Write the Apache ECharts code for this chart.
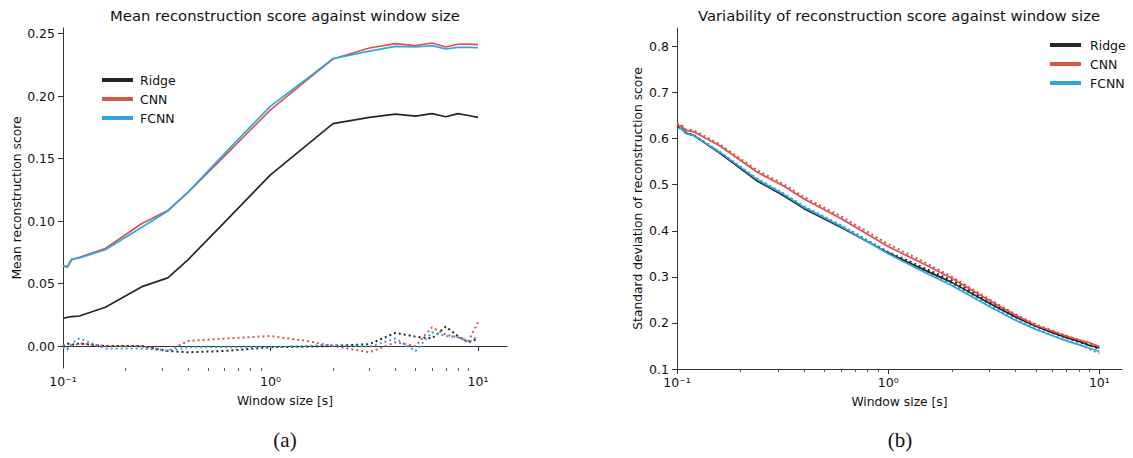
<!DOCTYPE html>
<html>
<head>
    <meta charset="utf-8">
    <title>Reconstruction score against window size</title>
    <script type="text/javascript" src="https://cdn.jsdelivr.net/npm/echarts@6/dist/echarts.min.js"></script>
    <style>
        html, body { margin: 0; padding: 0; background: #fff; }
        #chart { width: 1133px; height: 458px; }
    </style>
</head>
<body>
<div id="chart"></div>

<script type="text/javascript">
    // window sizes in seconds (x of every series)
    var windowSizes = [0.1, 0.105, 0.11, 0.12, 0.16, 0.24, 0.32, 0.4, 0.6, 1, 1.5, 2, 3, 4, 5, 6, 7, 8, 9, 10];

    // (a) mean reconstruction score
    var ridgeMean = [0.022, 0.023, 0.0235, 0.024, 0.031, 0.0475, 0.0545, 0.069, 0.099, 0.137, 0.161, 0.178, 0.183, 0.1855, 0.184, 0.186, 0.1835, 0.186, 0.1845, 0.183];
    var cnnMean   = [0.0645, 0.063, 0.069, 0.071, 0.078, 0.098, 0.1085, 0.123, 0.152, 0.189, 0.213, 0.2297, 0.2385, 0.242, 0.2404, 0.2425, 0.2393, 0.2415, 0.2416, 0.2412];
    var fcnnMean  = [0.064, 0.0635, 0.0695, 0.0705, 0.077, 0.095, 0.108, 0.123, 0.154, 0.192, 0.214, 0.230, 0.236, 0.2398, 0.2393, 0.2404, 0.2377, 0.239, 0.239, 0.2387];
    // dotted (null) curves
    var ridgeMeanNull = [0.000, 0.002, 0.001, 0.002, 0.000, 0.000, -0.004, -0.005, -0.004, -0.001, -0.0005, 0.000, 0.0015, 0.0105, 0.0075, 0.006, 0.0155, 0.008, 0.003, 0.006];
    var cnnMeanNull   = [0.001, -0.002, 0.000, 0.002, 0.000, 0.000, -0.004, 0.004, 0.006, 0.008, 0.004, 0.000, -0.005, 0.003, 0.000, 0.015, 0.009, 0.007, 0.004, 0.019];
    var fcnnMeanNull  = [-0.001, -0.003, 0.002, 0.006, -0.002, -0.002, -0.004, -0.001, -0.001, -0.001, 0.000, 0.001, -0.0005, 0.006, -0.004, 0.011, 0.008, 0.007, 0.003, 0.008];

    // (b) standard deviation of reconstruction score
    var ridgeStd = [0.625, 0.622, 0.612, 0.607, 0.568, 0.508, 0.476, 0.448, 0.407, 0.352, 0.314, 0.288, 0.243, 0.213, 0.193, 0.179, 0.168, 0.160, 0.151, 0.146];
    var cnnStd   = [0.630, 0.627, 0.618, 0.615, 0.584, 0.527, 0.497, 0.469, 0.426, 0.366, 0.326, 0.297, 0.249, 0.217, 0.195, 0.182, 0.171, 0.163, 0.157, 0.149];
    var fcnnStd  = [0.623, 0.621, 0.611, 0.607, 0.570, 0.511, 0.479, 0.451, 0.409, 0.350, 0.309, 0.281, 0.236, 0.206, 0.186, 0.172, 0.161, 0.153, 0.145, 0.138];
    var ridgeStdNull = [0.626, 0.623, 0.613, 0.607, 0.569, 0.510, 0.478, 0.450, 0.409, 0.354, 0.318, 0.292, 0.247, 0.215, 0.193, 0.179, 0.168, 0.159, 0.151, 0.144];
    var cnnStdNull   = [0.632, 0.630, 0.620, 0.618, 0.587, 0.531, 0.501, 0.473, 0.431, 0.371, 0.331, 0.300, 0.252, 0.219, 0.197, 0.183, 0.172, 0.164, 0.155, 0.147];
    var fcnnStdNull  = [0.624, 0.622, 0.612, 0.608, 0.571, 0.513, 0.481, 0.453, 0.412, 0.354, 0.313, 0.285, 0.239, 0.208, 0.187, 0.173, 0.162, 0.153, 0.143, 0.134];

    // ticks
    var xMajorTicks = [0.1, 1, 10];
    var xTickLabels = ['10\u207B\u00B9', '10\u2070', '10\u00B9'];
    var xMinorTicks = [0.2, 0.3, 0.4, 0.5, 0.6, 0.7, 0.8, 0.9, 2, 3, 4, 5, 6, 7, 8, 9];
    var meanTicks = [0, 0.05, 0.10, 0.15, 0.20, 0.25];
    var stdTicks = [0.1, 0.2, 0.3, 0.4, 0.5, 0.6, 0.7, 0.8];

    var modelNames = ['Ridge', 'CNN', 'FCNN'];
    var colors = {Ridge: '#262626', CNN: '#d9534f', FCNN: '#2fa6dc'};
    var FONT = 'DejaVu Sans';
    var ink = '#111';

    var myChart = echarts.init(document.getElementById('chart'), null, {renderer: 'svg'});

    function pairs(arr) {
        return windowSizes.map(function (w, i) { return [w, arr[i]]; });
    }

    function xAxes(grid, max) {
        var line = {color: '#333', width: 1};
        return [{
            type: 'log', gridIndex: grid, min: 0.1, max: max, position: 'bottom',
            axisLine: {show: true, lineStyle: line},
            axisTick: {show: true, customValues: xMajorTicks, length: 5, lineStyle: line},
            axisLabel: {
                customValues: xMajorTicks, margin: 7, fontSize: 12.5, fontFamily: FONT, color: ink,
                formatter: function (v) { return xTickLabels[Math.round(Math.log10(v)) + 1]; }
            },
            splitLine: {show: false},
            name: 'Window size [s]', nameLocation: 'middle', nameGap: 27,
            nameTextStyle: {fontSize: 12.3, fontFamily: FONT, color: ink}
        }, {
            type: 'log', gridIndex: grid, min: 0.1, max: max, position: 'bottom',
            axisLine: {show: false},
            axisTick: {show: true, customValues: xMinorTicks, length: 3, lineStyle: {color: '#333', width: 0.8}},
            axisLabel: {show: false},
            splitLine: {show: false}
        }];
    }

    function yAxis(grid, min, max, ticks, digits, name, gap) {
        var line = {color: '#333', width: 1};
        return {
            type: 'value', gridIndex: grid, min: min, max: max,
            axisLine: {show: true, lineStyle: line},
            axisTick: {show: true, customValues: ticks, length: 5, lineStyle: line},
            axisLabel: {
                customValues: ticks, margin: 8, fontSize: 12.5, fontFamily: FONT, color: ink,
                formatter: function (v) { return v.toFixed(digits); }
            },
            splitLine: {show: false},
            name: name, nameLocation: 'middle', nameGap: gap,
            nameTextStyle: {fontSize: 12.3, fontFamily: FONT, color: ink}
        };
    }

    var meanSets = {Ridge: [ridgeMean, ridgeMeanNull], CNN: [cnnMean, cnnMeanNull], FCNN: [fcnnMean, fcnnMeanNull]};
    var stdSets = {Ridge: [ridgeStd, ridgeStdNull], CNN: [cnnStd, cnnStdNull], FCNN: [fcnnStd, fcnnStdNull]};

    var series = [];
    [[meanSets, 0, 0], [stdSets, 1, 2]].forEach(function (cfg) {
        var sets = cfg[0], yi = cfg[1], xi = cfg[2];
        // dotted curves first, solid on top
        modelNames.forEach(function (m) {
            series.push({
                name: m + ' null', type: 'line', xAxisIndex: xi, yAxisIndex: yi,
                data: pairs(sets[m][1]), showSymbol: false, symbol: 'none', animation: false,
                lineStyle: {color: colors[m], width: 2, type: [2, 3], cap: 'butt'},
                itemStyle: {color: colors[m]}
            });
        });
        modelNames.forEach(function (m) {
            series.push({
                name: m, type: 'line', xAxisIndex: xi, yAxisIndex: yi,
                data: pairs(sets[m][0]), showSymbol: false, symbol: 'none', animation: false,
                lineStyle: {color: colors[m], width: 1.7},
                itemStyle: {color: colors[m]}
            });
        });
    });

    function legend(left, top, pad) {
        return {
            data: modelNames, orient: 'vertical', left: left, top: top, icon: 'rect', padding: 0,
            itemWidth: 31, itemHeight: 4, itemGap: 5, selectedMode: false,
            textStyle: {fontSize: 12.5, fontFamily: FONT, color: ink, lineHeight: 14, padding: [0, 0, 0, pad]}
        };
    }

    function label(x, y, text, size, family) {
        return {
            type: 'text', x: x, y: y,
            style: {text: text, fill: '#111', font: size + 'px "' + family + '"', align: 'center', verticalAlign: 'middle'}
        };
    }

    option = {
        backgroundColor: '#fff',
        animation: false,
        grid: [
            {left: 63, top: 28, width: 444, height: 340},
            {left: 677, top: 28, width: 445, height: 341}
        ],
        xAxis: xAxes(0, 13.8).concat(xAxes(1, 12.8)),
        yAxis: [
            yAxis(0, -0.0176, 0.2545, meanTicks, 2, 'Mean reconstruction score', 40),
            yAxis(1, 0.1, 0.84, stdTicks, 1, 'Standard deviation of reconstruction score', 33)
        ],
        legend: [legend(102, 73, 2), legend(1050, 38, 4)],
        graphic: [
            label(285, 15, 'Mean reconstruction score against window size', 14.8, FONT),
            label(899, 15, 'Variability of reconstruction score against window size', 14.8, FONT),
            label(285, 440, '(a)', 21, 'Liberation Serif'),
            label(900, 440, '(b)', 21, 'Liberation Serif')
        ],
        series: series
    };
    myChart.setOption(option);
</script>
</body>
</html>
